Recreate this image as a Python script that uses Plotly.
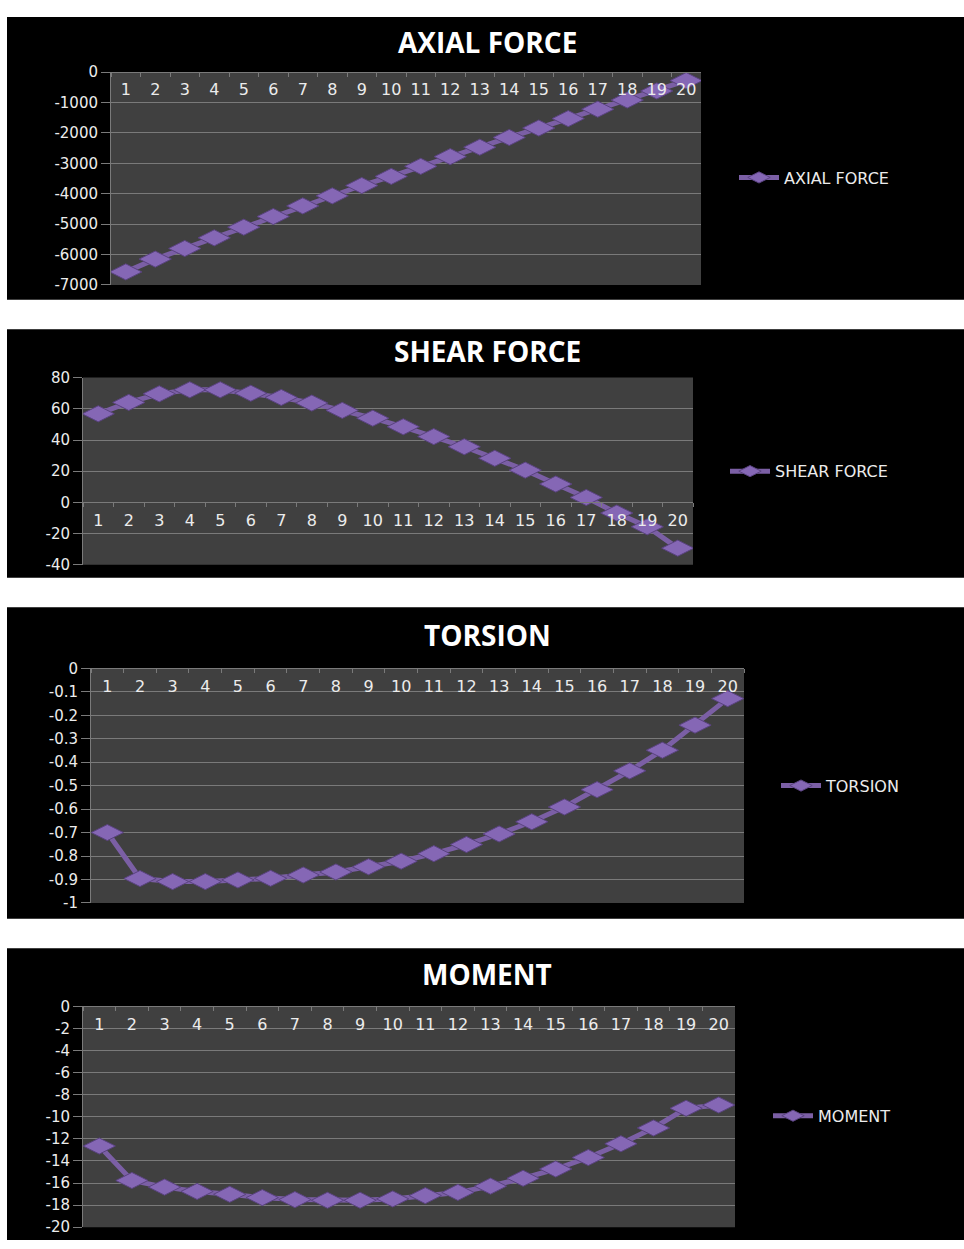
import plotly.graph_objects as go

W, H = 964, 1249

categories = [str(i) for i in range(1, 21)]

axial_force = [-6570, -6150, -5800, -5450, -5100, -4750, -4400, -4070, -3730, -3430,
               -3100, -2780, -2470, -2150, -1840, -1530, -1220, -920, -620, -280]
shear_force = [56.8, 64.1, 69.6, 72.2, 72.2, 70.0, 67.3, 63.7, 59.0, 54.0,
               48.5, 42.2, 35.7, 28.3, 20.7, 11.8, 3.2, -6.8, -15.6, -29.3]
torsion = [-0.70, -0.896, -0.909, -0.909, -0.902, -0.895, -0.881, -0.868, -0.846, -0.822,
           -0.790, -0.751, -0.706, -0.654, -0.591, -0.517, -0.437, -0.349, -0.242, -0.129]
moment = [-12.65, -15.77, -16.37, -16.76, -17.02, -17.32, -17.50, -17.56, -17.56, -17.44,
          -17.14, -16.85, -16.28, -15.57, -14.73, -13.69, -12.44, -11.01, -9.23, -8.93]

# value-axis tick labels (plain hyphen minus)
axial_ticks = ["0", "-1000", "-2000", "-3000", "-4000", "-5000", "-6000", "-7000"]
shear_ticks = ["80", "60", "40", "20", "0", "-20", "-40"]
torsion_ticks = ["0", "-0.1", "-0.2", "-0.3", "-0.4", "-0.5", "-0.6", "-0.7", "-0.8", "-0.9", "-1"]
moment_ticks = ["0", "-2", "-4", "-6", "-8", "-10", "-12", "-14", "-16", "-18", "-20"]

titles = ["AXIAL FORCE", "SHEAR FORCE", "TORSION", "MOMENT"]
series = [axial_force, shear_force, torsion, moment]
tick_sets = [axial_ticks, shear_ticks, torsion_ticks, moment_ticks]

# panel layout in pixels: black card, plot box, title centre, legend anchor
panels = [
    dict(card=(8, 295), plot=(111, 701, 64, 280), title_y=33, leg=(734, 171)),
    dict(card=(325, 577), plot=(83, 693, 374, 564), title_y=347, leg=(725, 469)),
    dict(card=(607, 923), plot=(91, 744, 669, 907), title_y=635, leg=(776, 788)),
    dict(card=(953, 1249), plot=(83, 735, 1012, 1236), title_y=979, leg=(768, 1123)),
]

PURPLE_LINE = "#7b5fa5"
PURPLE_MARK = "#8567b5"
PLOT_BG = "#404040"
GRID = "#7a7a7a"
TEXT = "#ececec"


def px_x(p):
    return p / W


def px_y(p):
    return 1 - p / H


fig = go.Figure()
shapes, annotations = [], []
layout_axes = {}

for i, (title, vals, ticks, pn) in enumerate(zip(titles, series, tick_sets, panels)):
    n = i + 1
    xa = "x" if n == 1 else f"x{n}"
    ya = "y" if n == 1 else f"y{n}"
    leg = "legend" if n == 1 else f"legend{n}"

    fig.add_trace(go.Scatter(
        x=categories, y=vals, mode="lines+markers", name=title,
        xaxis=xa, yaxis=ya, legend=leg,
        line=dict(color=PURPLE_LINE, width=5),
        marker=dict(symbol="diamond-wide", size=23, color=PURPLE_MARK,
                    line=dict(color="#5a4380", width=1)),
    ))

    tickvals = [float(t) for t in ticks]
    ymin, ymax = min(tickvals), max(tickvals)

    x0, x1, y0, y1 = pn["plot"]
    xdom = [px_x(x0), px_x(x1)]
    ydom = [px_y(y1), px_y(y0)]
    # category axis sits on the y = 0 line
    zero_pos = ydom[0] + (0 - ymin) / (ymax - ymin) * (ydom[1] - ydom[0])

    layout_axes["xaxis" if n == 1 else f"xaxis{n}"] = dict(
        type="category", domain=xdom, anchor="free", position=zero_pos,
        side="bottom", range=[-0.5, len(categories) - 0.5],
        showline=True, linecolor=GRID, linewidth=1,
        ticks="outside", tickson="boundaries", ticklen=4, tickcolor=GRID,
        showgrid=False, tickfont=dict(family="DejaVu Sans", size=16, color=TEXT),
        ticklabelstandoff=3, zeroline=False,
    )
    layout_axes["yaxis" if n == 1 else f"yaxis{n}"] = dict(
        domain=ydom, anchor=xa, range=[ymin, ymax],
        tickmode="array", tickvals=tickvals, ticktext=ticks,
        showgrid=True, gridcolor=GRID, gridwidth=1,
        showline=True, linecolor=GRID, linewidth=1,
        ticks="outside", ticklen=9, tickcolor=GRID,
        tickfont=dict(family="DejaVu Sans", size=15, color=TEXT), zeroline=False,
    )

    c0, c1 = pn["card"]
    shapes.append(dict(type="rect", xref="paper", yref="paper",
                       x0=px_x(7), x1=1.0, y0=px_y(c1), y1=px_y(c0),
                       fillcolor="black", line=dict(width=0), layer="below"))
    shapes.append(dict(type="rect", xref=f"{xa} domain", yref=f"{ya} domain",
                       x0=0, x1=1, y0=0, y1=1,
                       fillcolor=PLOT_BG, line=dict(width=0), layer="below"))

    annotations.append(dict(
        text=f"<b>{title}</b>", xref="paper", yref="paper",
        x=px_x(487), y=px_y(pn["title_y"]), xanchor="center", yanchor="middle",
        showarrow=False, font=dict(family="Open Sans", size=28, color="white"),
    ))

    lx, ly = pn["leg"]
    layout_axes[leg] = dict(
        x=px_x(lx), y=px_y(ly), xanchor="left", yanchor="middle",
        bgcolor="rgba(0,0,0,0)", borderwidth=0,
        font=dict(family="DejaVu Sans", size=16, color=TEXT),
        itemwidth=40, tracegroupgap=0,
    )

fig.update_layout(
    width=W, height=H,
    margin=dict(l=0, r=0, t=0, b=0),
    paper_bgcolor="white", plot_bgcolor=PLOT_BG,
    showlegend=True,
    shapes=shapes, annotations=annotations,
    **layout_axes,
)

fig.write_html("out.html")
